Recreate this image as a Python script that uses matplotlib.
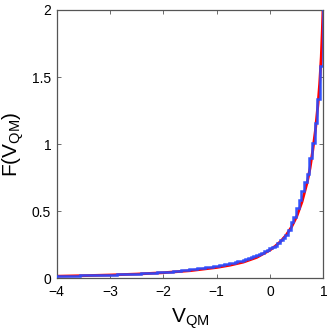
import numpy as np
import matplotlib
matplotlib.use("Agg")
import matplotlib.pyplot as plt

plt.rcParams['font.family'] = ['Liberation Sans', 'DejaVu Sans']
plt.rcParams['mathtext.default'] = 'regular'

# Red smooth curve (theory)
v_curve = [-4.0, -3.5, -3.0, -2.5, -2.0, -1.5, -1.0, -0.75, -0.5, -0.25, 0.0, 0.1, 0.2,
           0.3, 0.4, 0.5, 0.6, 0.7, 0.75, 0.8, 0.85, 0.9, 0.93, 0.96, 0.98, 1.0]
f_curve = [0.015, 0.019, 0.024, 0.031, 0.041, 0.056, 0.080, 0.097, 0.120, 0.155, 0.21, 0.24, 0.275,
           0.32, 0.38, 0.46, 0.57, 0.72, 0.82, 0.95, 1.1, 1.3, 1.45, 1.65, 1.85, 2.1]

# Blue histogram (101 bins of width 0.05 starting at -4.0125)
bin_start = -4.0125
bin_width = 0.05
hist_vals = [
    0.017, 0.017, 0.018, 0.018, 0.019, 0.019, 0.019, 0.020, 0.020, 0.021,
    0.021, 0.022, 0.022, 0.022, 0.023, 0.024, 0.024, 0.025, 0.025, 0.026,
    0.026, 0.027, 0.027, 0.028, 0.029, 0.030, 0.030, 0.031, 0.032, 0.033,
    0.034, 0.035, 0.036, 0.037, 0.038, 0.039, 0.040, 0.041, 0.043, 0.044,
    0.045, 0.047, 0.049, 0.050, 0.052, 0.054, 0.056, 0.058, 0.061, 0.063,
    0.065, 0.068, 0.070, 0.073, 0.076, 0.079, 0.082, 0.084, 0.087, 0.090,
    0.093, 0.097, 0.100, 0.104, 0.108, 0.112, 0.117, 0.122, 0.127, 0.132,
    0.138, 0.144, 0.150, 0.157, 0.165, 0.172, 0.180, 0.190, 0.200, 0.212,
    0.225, 0.235, 0.240, 0.260, 0.287, 0.300, 0.325, 0.360, 0.420, 0.460,
    0.520, 0.585, 0.647, 0.720, 0.780, 0.894, 1.005, 1.160, 1.335, 1.580,
    3.000]

x_ticks = [-4, -3, -2, -1, 0, 1]
x_ticklabels = ['\u22124', '\u22123', '\u22122', '\u22121', '0', '1']
y_ticks = [0, 0.5, 1, 1.5, 2]
y_ticklabels = ['0', '0.5', '1', '1.5', '2']

fig = plt.figure(figsize=(3.32, 3.32), dpi=100)
ax = fig.add_axes([0.171, 0.162, 0.803, 0.808])

edges = bin_start + bin_width * np.arange(len(hist_vals) + 1)
ax.plot(v_curve, f_curve, color='#ff0000', lw=2.0, zorder=2)
ax.stairs(hist_vals, edges, color='#2a4cff', lw=1.8, zorder=3, alpha=0.95)

ax.set_xlim(-4, 1)
ax.set_ylim(0, 2)
ax.set_xticks(x_ticks)
ax.set_xticklabels(x_ticklabels)
ax.set_yticks(y_ticks)
ax.set_yticklabels(y_ticklabels)
ax.tick_params(direction='in', top=True, right=True, length=3, width=0.6,
               labelsize=10, color='#555555', pad=4)
ax.tick_params(axis='x', pad=5)
for s in ax.spines.values():
    s.set_color('#555555')
    s.set_linewidth(0.9)

ax.set_xlabel('$V_{QM}$', fontsize=15, labelpad=5)
ax.set_ylabel('$F(V_{QM})$', fontsize=15)
ax.yaxis.set_label_coords(-0.115, 0.5)

fig.savefig('out.png', dpi=100)
